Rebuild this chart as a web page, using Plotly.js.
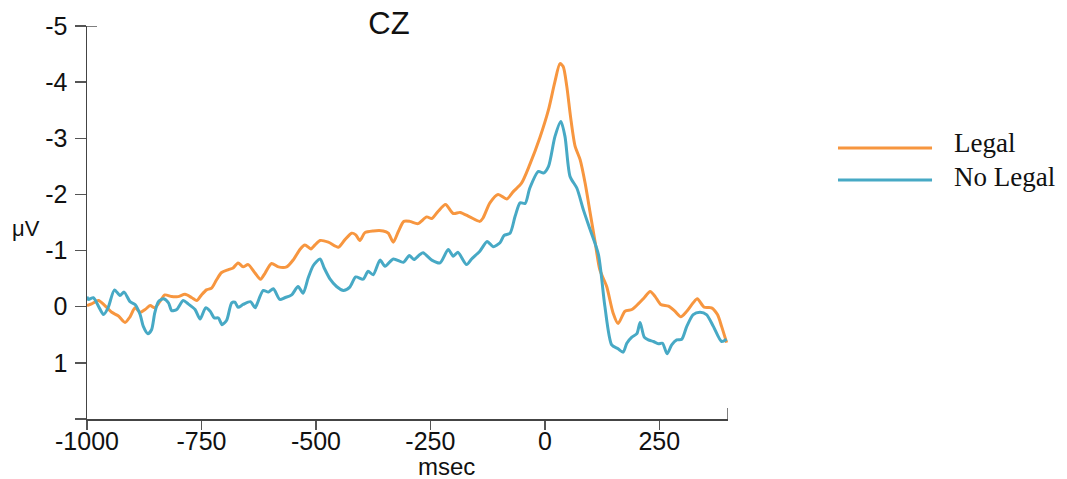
<!DOCTYPE html>
<html>
<head>
<meta charset="utf-8">
<script src="https://cdn.plot.ly/plotly-3.0.1.min.js"></script>
<style>html,body{margin:0;padding:0;background:#fff;}#chart{width:1067px;height:479px;}</style>
</head>
<body>
<div id="chart"></div>
<script>
// Time (msec) and amplitude (µV)
const legalT = [-1000,-990,-975,-961,-946,-932,-917,-906,-895,-884,-873,-862,-852,-841,-830,-815,-801,-786,-771,-760,-750,-739,-728,-717,-706,-691,-681,-670,-659,-648,-633,-621,-611,-597,-582,-564,-549,-535,-524,-511,-502,-491,-473,-451,-437,-422,-413,-404,-393,-375,-353,-342,-331,-320,-308,-295,-277,-258,-247,-233,-217,-200,-185,-164,-142,-135,-120,-102,-83,-69,-51,-33,-11,8,22,33,40,48,56,66,77,88,99,110,120,135,149,160,175,190,204,217,230,241,253,270,284,297,310,324,333,348,364,377,386,397];
const legalV = [-0.02,-0.05,-0.11,-0.02,0.10,0.16,0.28,0.18,0.02,0.10,0.05,-0.02,0.02,-0.09,-0.21,-0.18,-0.18,-0.22,-0.16,-0.11,-0.21,-0.30,-0.33,-0.48,-0.61,-0.66,-0.69,-0.78,-0.71,-0.75,-0.60,-0.49,-0.60,-0.77,-0.71,-0.71,-0.84,-1.02,-1.10,-1.03,-1.10,-1.18,-1.15,-1.06,-1.19,-1.31,-1.28,-1.18,-1.32,-1.35,-1.35,-1.31,-1.15,-1.34,-1.52,-1.52,-1.48,-1.60,-1.57,-1.70,-1.82,-1.66,-1.68,-1.60,-1.52,-1.58,-1.85,-2.00,-1.92,-2.05,-2.20,-2.53,-3.01,-3.51,-4.01,-4.33,-4.28,-3.92,-3.39,-2.86,-2.62,-2.20,-1.67,-1.14,-0.66,-0.36,0.11,0.30,0.08,0.05,-0.05,-0.16,-0.27,-0.18,-0.04,-0.01,0.08,0.18,0.08,-0.07,-0.14,0.01,0.02,0.14,0.35,0.64];

const noLegalT = [-1000,-997,-986,-975,-964,-954,-940,-928,-919,-906,-895,-884,-877,-867,-859,-852,-844,-833,-822,-815,-804,-790,-779,-764,-753,-741,-731,-722,-713,-705,-695,-684,-677,-670,-659,-643,-633,-629,-615,-604,-593,-579,-568,-553,-539,-528,-517,-506,-491,-482,-469,-455,-440,-426,-413,-397,-386,-375,-360,-349,-331,-309,-296,-286,-273,-266,-247,-229,-211,-200,-190,-171,-160,-142,-126,-113,-98,-89,-76,-65,-54,-43,-33,-14,-3,8,22,35,44,55,70,84,99,117,131,146,160,171,179,190,201,208,217,226,237,248,257,267,277,288,299,310,324,339,353,368,386,397];
const noLegalV = [-0.18,-0.13,-0.16,-0.01,0.14,0.02,-0.30,-0.20,-0.26,-0.09,-0.04,0.14,0.35,0.48,0.41,0.11,-0.09,-0.14,-0.07,0.07,0.05,-0.11,-0.05,0.05,0.22,0.02,0.08,0.20,0.20,0.32,0.24,-0.07,-0.08,0.01,-0.04,-0.09,0.02,-0.04,-0.29,-0.26,-0.32,-0.13,-0.16,-0.21,-0.36,-0.24,-0.51,-0.73,-0.85,-0.69,-0.49,-0.36,-0.29,-0.35,-0.53,-0.49,-0.63,-0.57,-0.83,-0.72,-0.85,-0.79,-0.91,-0.84,-0.93,-0.96,-0.83,-0.78,-1.02,-0.90,-0.97,-0.75,-0.85,-0.99,-1.16,-1.07,-1.14,-1.27,-1.31,-1.61,-1.85,-1.84,-2.11,-2.41,-2.38,-2.50,-3.03,-3.30,-3.03,-2.32,-2.11,-1.73,-1.37,-0.93,-0.01,0.68,0.75,0.81,0.65,0.54,0.48,0.28,0.54,0.59,0.62,0.66,0.65,0.84,0.68,0.59,0.58,0.35,0.14,0.10,0.14,0.35,0.62,0.58];

const xTickVals = [-1000,-750,-500,-250,0,250];
const xTickText = ['-1000','-750','-500','-250','0','250'];
const yTickVals = [-5,-4,-3,-2,-1,0,1,2];
const yTickText = ['-5','-4','-3','-2','-1','0','1',''];
const seriesNames = ['Legal','No Legal'];
const seriesColors = ['#F7963F','#47A9C5'];

const sans = 'Liberation Sans, Arial, Helvetica, sans-serif';
const serif = 'Liberation Serif, Times New Roman, serif';

const traces = [
  {x: legalT, y: legalV, name: seriesNames[0], mode: 'lines',
   line: {color: seriesColors[0], width: 3, shape: 'spline', smoothing: 0.7}, showlegend: false},
  {x: noLegalT, y: noLegalV, name: seriesNames[1], mode: 'lines',
   line: {color: seriesColors[1], width: 3, shape: 'spline', smoothing: 0.7}, showlegend: false}
];

const legendY = [0.6896, 0.6081];
const legendTextY = [0.7023, 0.6170];
const shapes = [
  // small inside cap at the top of the y axis
  {type: 'line', xref: 'paper', yref: 'y', x0: 0, x1: 10/641, y0: -5, y1: -5, line: {color: '#555', width: 1.5}},
  // small inside cap at the right end of the x axis
  {type: 'line', xref: 'x', yref: 'paper', x0: 400, x1: 400, y0: 0, y1: 11/393, line: {color: '#555', width: 1.5}}
];
const annotations = [
  {text: 'μV', xref: 'paper', yref: 'paper', x: -0.0952, y: 0.4835, xanchor: 'center', yanchor: 'middle', showarrow: false, font: {family: sans, size: 22, color: '#111'}},
  {text: 'msec', xref: 'paper', yref: 'paper', x: 0.5616, y: -0.1196, xanchor: 'center', yanchor: 'middle', showarrow: false, font: {family: sans, size: 24, color: '#111'}}
];
seriesNames.forEach((n, i) => {
  shapes.push({type: 'line', xref: 'paper', yref: 'paper', x0: 1.1716, x1: 1.3183, y0: legendY[i], y1: legendY[i], line: {color: seriesColors[i], width: 3}});
  annotations.push({text: n, xref: 'paper', yref: 'paper', x: 1.3495, y: legendTextY[i], xanchor: 'left', yanchor: 'middle', showarrow: false, font: {family: serif, size: 27, color: '#111'}});
});

const layout = {
  width: 1067, height: 479,
  margin: {l: 87, r: 339, t: 26, b: 60},
  paper_bgcolor: '#fff', plot_bgcolor: '#fff',
  title: {text: 'CZ', x: 0.4711 * 641 / 1067 + 87 / 1067, xanchor: 'center', y: 1 - 23 / 479, yanchor: 'middle', font: {family: sans, size: 31, color: '#111'}},
  xaxis: {range: [-1000, 400], tickvals: xTickVals, ticktext: xTickText, ticks: 'outside', ticklen: 9, tickwidth: 1.5, tickcolor: '#555',
          showline: true, linecolor: '#444', linewidth: 1.5, showgrid: false, zeroline: false,
          tickfont: {family: sans, size: 25, color: '#111'}, ticklabelstandoff: -10},
  yaxis: {range: [2, -5], tickvals: yTickVals, ticktext: yTickText, ticks: 'outside', ticklen: 11, tickwidth: 1.5, tickcolor: '#555',
          showline: true, linecolor: '#444', linewidth: 1.5, showgrid: false, zeroline: false,
          tickfont: {family: sans, size: 25, color: '#111'}, ticklabelstandoff: 2},
  shapes: shapes,
  annotations: annotations,
  showlegend: false
};

Plotly.newPlot('chart', traces, layout, {staticPlot: true, displayModeBar: false});
</script>
</body>
</html>
